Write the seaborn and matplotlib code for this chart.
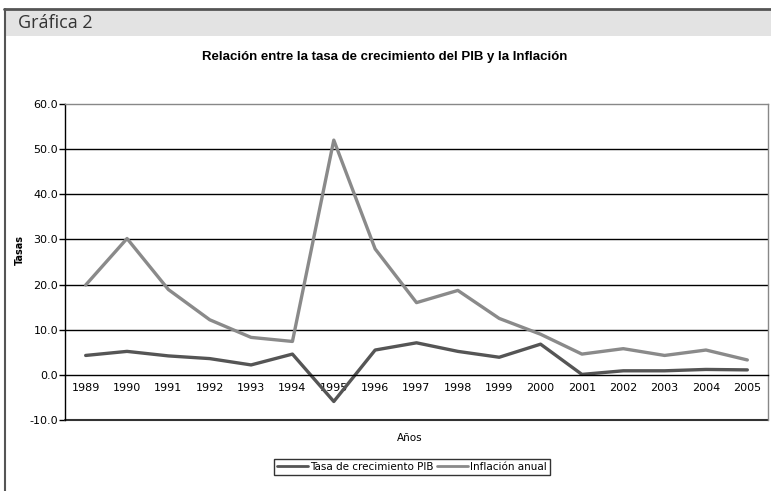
import matplotlib

matplotlib.use("Agg")
import matplotlib.pyplot as plt
import matplotlib.patches as mpatches
import matplotlib.lines as mlines
import numpy as np
import pandas as pd
import seaborn as sns

years = ["1989", "1990", "1991", "1992", "1993", "1994", "1995", "1996", "1997",
         "1998", "1999", "2000", "2001", "2002", "2003", "2004", "2005"]
pib = [4.3, 5.2, 4.2, 3.6, 2.2, 4.6, -5.9, 5.5, 7.1, 5.2, 3.9, 6.8, 0.1, 0.9, 0.9, 1.2, 1.1]
inflacion = [19.9, 30.2, 18.9, 12.2, 8.3, 7.4, 52.0, 27.9, 16.0, 18.7, 12.5, 9.0, 4.6, 5.8, 4.3, 5.5, 3.3]
series_names = ["Tasa de crecimiento PIB", "Inflación anual"]
series_colors = ["#555555", "#8a8a8a"]

frame = pd.DataFrame({
    "pos": list(range(len(years))) * 2,
    "valor": pib + inflacion,
    "serie": [series_names[0]] * len(years) + [series_names[1]] * len(years),
})

sns.set_style("white")
plt.rcParams["font.family"] = ["DejaVu Sans"]
plt.rcParams["text.color"] = "black"
plt.rcParams["xtick.color"] = "black"
plt.rcParams["ytick.color"] = "black"

fig = plt.figure(figsize=(7.71, 4.91), dpi=100)
W, H = 771, 491

# outer frame and header band
fig.patches.append(mpatches.Rectangle((4 / W, 1 - 36 / H), 1, 27 / H, transform=fig.transFigure,
                                      facecolor="#e3e3e3", edgecolor="none", zorder=0))
fig.lines.append(mlines.Line2D([4 / W, 1], [1 - 9 / H] * 2, transform=fig.transFigure,
                               color="#555555", lw=2))
fig.lines.append(mlines.Line2D([4.5 / W] * 2, [0, 1 - 9 / H], transform=fig.transFigure,
                               color="#555555", lw=1.5))
fig.text(18 / W, 1 - 23 / H, "Gráfica 2", fontsize=13, color="#333333",
         family=["Open Sans", "DejaVu Sans"], va="center", ha="left")
fig.text(385 / W, 1 - 57 / H, "Relación entre la tasa de crecimiento del PIB y la Inflación",
         fontsize=9.5, fontweight="bold", family=["Liberation Sans", "DejaVu Sans"],
         ha="center", va="center")

ax = fig.add_axes([65 / W, 71 / H, 703 / W, 316 / H])
sns.lineplot(data=frame, x="pos", y="valor", hue="serie", palette=series_colors,
             linewidth=2.4, ax=ax, legend=False)

ax.set_xlim(-0.5, len(years) - 0.5)
ax.set_ylim(-10, 60)
ax.set_yticks(np.arange(-10, 61, 10))
ax.set_yticklabels([f"{v:.1f}" for v in np.arange(-10, 61, 10)])
for v in range(10, 51, 10):
    ax.axhline(v, color="black", lw=1, zorder=0)

ax.set_xticks(range(len(years)))
ax.set_xticklabels(years)
ax.set_xticks(np.arange(-0.5, len(years), 1), minor=True)
ax.tick_params(axis="x", which="major", length=0, pad=6, labelsize=8)
ax.tick_params(axis="x", which="minor", length=4, direction="out", width=1)
ax.tick_params(axis="y", length=4, direction="out", width=1, pad=1, left=True, labelsize=8)

ax.spines["bottom"].set_position(("data", 0))
ax.spines["bottom"].set_color("black")
ax.spines["left"].set_color("black")
ax.spines["top"].set_color("#888888")
ax.spines["right"].set_color("#888888")
for s in ax.spines.values():
    s.set_linewidth(1)
# bottom edge of the plot area at -10
ax.axhline(-10, color="#333333", lw=1.5, clip_on=False)

ax.set_xlabel("")
ax.set_ylabel("")
fig.text(410 / W, 1 - 438 / H, "Años", fontsize=7.5, ha="center", va="center")
fig.text(20 / W, 1 - 250 / H, "Tasas", fontsize=7, fontweight="bold", rotation=90,
         ha="center", va="center")

handles = [mlines.Line2D([], [], color=c, lw=2) for c in series_colors]
leg = fig.legend(handles, series_names, loc="center", bbox_to_anchor=(412 / W, 1 - 467 / H),
                 ncol=2, fontsize=7.5, frameon=True, fancybox=False, edgecolor="black",
                 handlelength=3, handletextpad=0.2, columnspacing=0.3, borderpad=0.25,
                 borderaxespad=0)
leg.get_frame().set_linewidth(1)

fig.savefig("out.png", dpi=100)
